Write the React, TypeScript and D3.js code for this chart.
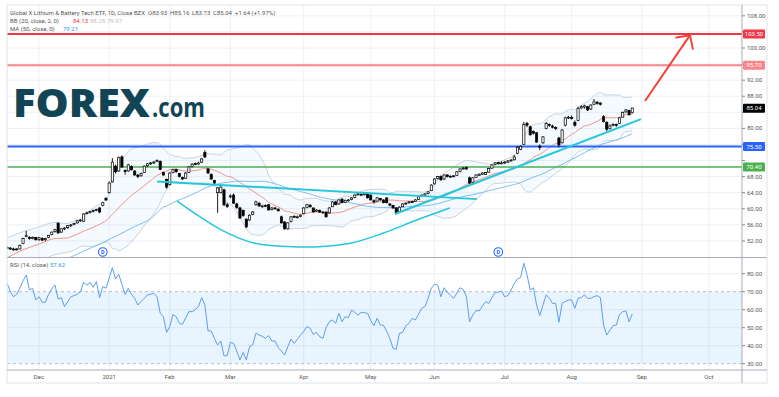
import * as d3 from 'd3';
import React, { useEffect, useRef } from 'react';

// daily candles, [open, high, low, close]
const nov20 = [
  [50.4, 50.7, 50.0, 50.2], [50.2, 50.5, 49.8, 50.0], [50.0, 50.3, 49.6, 49.8], [49.9, 50.2, 49.6, 50.0],
  [50.0, 51.1, 49.9, 50.9], [51.4, 52.8, 51.2, 52.6], [53.2, 54.5, 52.9, 53.3], [52.9, 53.2, 52.3, 52.6],
  [52.6, 53.1, 52.4, 52.9], [52.9, 53.0, 52.1, 52.3],
];
const dec20 = [
  [52.4, 53.0, 52.0, 52.8], [52.6, 52.9, 52.0, 52.2], [52.3, 52.8, 52.0, 52.6], [52.9, 53.5, 52.7, 53.4],
  [53.6, 54.3, 53.4, 54.2], [54.3, 55.0, 54.1, 54.8], [56.4, 56.7, 53.8, 54.0], [54.2, 55.1, 54.0, 55.0],
  [55.0, 55.4, 54.7, 55.2], [55.3, 55.9, 55.0, 55.8], [55.8, 56.2, 55.5, 56.0], [56.1, 56.5, 55.9, 56.3],
  [56.5, 57.2, 56.3, 57.0], [57.0, 57.4, 56.8, 57.2], [56.9, 58.9, 56.7, 58.7], [58.8, 59.3, 58.6, 59.0],
  [59.1, 59.5, 58.8, 59.3], [59.4, 59.8, 59.1, 59.6], [59.7, 60.0, 59.4, 59.8], [60.2, 60.4, 58.9, 59.2],
  [60.8, 61.7, 60.6, 61.5], [62.6, 62.9, 61.9, 62.2],
];
const jan21 = [
  [64.0, 66.8, 63.8, 66.4], [66.7, 72.6, 66.5, 71.6], [70.6, 71.0, 68.8, 69.2], [69.4, 73.0, 69.2, 72.7],
  [72.9, 73.3, 70.2, 70.4], [69.5, 69.8, 68.5, 69.3], [69.4, 71.2, 69.2, 70.9], [70.5, 70.8, 69.5, 69.7],
  [69.4, 69.6, 68.3, 68.4], [68.4, 68.6, 67.6, 68.0], [68.2, 69.0, 68.0, 68.8], [69.0, 70.8, 68.9, 70.6],
  [70.7, 71.4, 70.4, 71.2], [71.2, 71.6, 70.9, 71.4], [71.5, 71.9, 71.2, 71.6], [71.8, 72.3, 71.6, 72.0],
  [71.8, 72.0, 69.6, 69.8], [69.0, 69.2, 68.2, 68.4], [67.3, 67.5, 65.0, 65.4],
];
const feb21 = [
  [66.0, 69.1, 65.8, 68.9], [69.0, 69.9, 68.8, 69.7], [69.8, 70.0, 69.0, 69.2], [68.8, 68.9, 67.8, 68.0],
  [67.8, 68.0, 67.2, 67.4], [67.6, 69.1, 67.4, 68.9], [69.0, 70.6, 68.9, 70.4], [70.5, 71.3, 70.3, 71.1],
  [71.3, 71.5, 70.8, 71.0], [71.1, 71.7, 71.0, 71.4], [71.6, 72.6, 71.4, 72.4], [74.0, 74.6, 72.6, 72.9],
  [69.9, 70.2, 68.7, 68.9], [68.5, 68.8, 67.2, 67.4], [67.0, 67.2, 66.2, 66.4], [64.0, 65.4, 59.0, 65.2],
  [64.0, 65.6, 63.8, 65.4], [64.7, 65.0, 60.6, 61.0], [61.0, 61.5, 60.2, 60.6],
];
const mar21 = [
  [63.0, 63.6, 62.6, 63.2], [63.4, 63.8, 61.2, 61.4], [61.2, 61.5, 60.0, 60.3], [60.2, 60.5, 57.5, 57.7],
  [59.6, 59.8, 58.0, 58.3], [57.4, 57.6, 55.2, 55.5], [57.2, 58.6, 57.0, 58.4], [58.6, 59.4, 58.4, 59.2],
  [61.0, 62.0, 60.8, 61.7], [61.4, 61.6, 60.5, 60.7], [60.6, 61.0, 60.3, 60.7], [60.8, 61.1, 60.4, 60.7],
  [61.0, 61.2, 59.6, 59.7], [59.8, 60.4, 59.6, 60.2], [60.2, 60.4, 59.8, 60.0], [59.9, 60.1, 59.3, 59.5],
  [58.0, 58.3, 56.3, 56.5], [56.7, 56.9, 54.8, 55.0], [55.0, 56.7, 54.8, 56.5], [56.8, 58.2, 56.6, 58.0],
  [58.1, 58.4, 57.8, 58.0], [57.9, 58.3, 57.6, 58.0], [58.1, 58.6, 57.9, 58.4],
];
const apr21 = [
  [58.8, 60.4, 58.6, 60.2], [60.3, 61.2, 60.1, 61.0], [60.9, 61.1, 60.3, 60.5], [60.2, 60.3, 59.1, 59.2],
  [59.4, 59.9, 59.2, 59.7], [59.6, 59.8, 59.0, 59.2], [59.2, 59.4, 58.8, 59.0], [59.2, 59.3, 57.8, 58.0],
  [59.0, 60.4, 58.8, 60.2], [60.5, 61.9, 60.4, 61.7], [61.7, 61.9, 60.9, 61.0], [61.2, 62.4, 61.0, 62.2],
  [62.4, 62.6, 61.4, 61.5], [61.6, 62.3, 61.5, 62.1], [62.0, 62.4, 61.8, 62.2], [62.3, 62.9, 62.1, 62.7],
  [62.8, 63.6, 62.6, 63.4], [63.5, 63.9, 63.3, 63.7], [63.6, 63.8, 63.2, 63.4], [63.5, 64.0, 63.3, 63.8],
  [63.9, 64.1, 62.6, 62.7],
];
const may21 = [
  [63.4, 63.6, 62.1, 62.2], [62.0, 62.3, 61.3, 61.7], [61.9, 62.9, 61.8, 62.7], [62.6, 62.7, 62.0, 62.2],
  [62.2, 62.3, 61.4, 61.5], [62.7, 62.8, 61.4, 61.5], [61.2, 61.4, 60.6, 60.9], [60.8, 61.0, 60.0, 60.2],
  [60.2, 60.4, 58.6, 59.0], [59.2, 60.6, 59.0, 60.4], [60.5, 61.4, 60.4, 61.2], [61.2, 61.6, 61.0, 61.4],
  [61.5, 61.9, 61.3, 61.7], [61.8, 62.0, 61.5, 61.7], [61.8, 62.4, 61.7, 62.2], [62.3, 63.2, 62.2, 63.0],
  [63.0, 63.6, 62.9, 63.4], [63.4, 63.9, 63.2, 63.7], [63.8, 64.4, 63.6, 64.2], [64.5, 66.1, 64.4, 65.9],
];
const jun21 = [
  [66.2, 67.6, 66.0, 67.4], [67.5, 68.2, 67.3, 68.0], [68.0, 68.3, 67.0, 67.2], [67.4, 68.6, 67.2, 68.4],
  [68.4, 68.6, 67.8, 68.0], [68.1, 68.3, 67.7, 68.0], [68.0, 68.4, 67.8, 68.2], [68.3, 69.4, 68.2, 69.2],
  [69.3, 70.1, 69.1, 69.9], [70.0, 70.4, 69.8, 70.1], [70.3, 70.5, 69.7, 69.9], [67.7, 68.0, 66.1, 66.4],
  [66.6, 67.9, 66.5, 67.7], [67.8, 68.6, 67.7, 68.4], [68.3, 68.8, 68.2, 68.6], [68.6, 69.1, 68.4, 68.9],
  [68.5, 69.2, 68.4, 69.0], [69.1, 70.2, 69.0, 70.0], [70.1, 71.1, 70.0, 70.9], [71.0, 71.6, 70.8, 71.4],
  [71.5, 71.7, 71.0, 71.2], [71.3, 71.8, 71.1, 71.4],
];
const jul21 = [
  [71.5, 71.9, 71.2, 71.6], [71.6, 72.1, 71.4, 71.9], [72.0, 72.4, 71.8, 72.1], [72.2, 73.4, 72.0, 72.9],
  [73.8, 75.6, 73.6, 75.3], [74.8, 75.8, 74.6, 75.5], [76.0, 81.6, 75.9, 81.0], [81.2, 81.6, 80.3, 80.8],
  [80.4, 80.7, 78.2, 78.4], [79.2, 79.5, 78.5, 78.8], [78.9, 79.1, 76.4, 76.6], [75.6, 76.0, 74.6, 75.3],
  [76.4, 78.1, 76.2, 77.9], [80.0, 81.6, 79.8, 81.2], [81.0, 81.2, 80.4, 80.8], [80.6, 80.9, 80.0, 80.3],
  [80.2, 80.5, 79.6, 80.0], [77.6, 77.9, 75.3, 75.9], [76.4, 79.8, 76.3, 79.6], [80.8, 82.9, 80.5, 82.6],
  [82.7, 83.1, 82.3, 82.8],
];
const aug21 = [
  [82.7, 83.2, 82.2, 82.6], [81.5, 82.0, 80.4, 80.8], [82.0, 85.4, 81.8, 85.0], [85.1, 85.8, 84.8, 85.4],
  [85.3, 85.9, 84.9, 85.6], [85.4, 85.5, 84.3, 84.6], [84.8, 86.0, 84.6, 85.8], [86.0, 87.3, 85.8, 86.6],
  [86.5, 86.8, 85.9, 86.2], [86.3, 86.5, 85.7, 86.0], [82.9, 83.3, 81.5, 81.7], [81.5, 81.8, 79.3, 79.8],
  [80.0, 81.0, 79.7, 80.6], [80.8, 81.3, 80.5, 81.0], [81.0, 81.2, 80.4, 80.8], [81.2, 82.8, 81.1, 82.6],
  [82.8, 84.2, 82.7, 84.0], [84.1, 84.8, 83.9, 84.6], [84.5, 84.6, 83.2, 83.4], [83.93, 85.16, 83.73, 85.04],
];

// RSI(14) per bar, same months
const rsiNov = [74.7, 70, 67.2, 68.5, 72, 76, 79.3, 70.9, 71.9, 65.4];
const rsiDec = [67.2, 64.1, 64.1, 68.5, 71.5, 73.7, 65.9, 66.7, 61.7, 64.5, 67.2, 67.8, 68.5, 70, 75.2, 73.7, 75.2, 72.4, 75.6, 66.7, 72.8, 71.9];
const rsiJan = [77.5, 83.3, 77.1, 79.7, 74, 68.5, 71.9, 68.5, 66.3, 62.6, 64.5, 66.3, 68.2, 68.6, 69.1, 67.2, 58, 56.1, 47.4];
const rsiFeb = [50.6, 57.4, 56.1, 52.4, 51.9, 55.5, 58.9, 58.9, 60, 61.7, 66.7, 62.6, 48.2, 48.2, 44, 40.4, 42.6, 34.4, 34.4];
const rsiMar = [41.9, 41.3, 37, 32.1, 36.3, 32.1, 39.4, 40.4, 46.9, 45.9, 45.2, 44.1, 45.6, 42.6, 42.6, 39, 37, 34.8, 39.4, 43.7, 41.3, 43.5, 45.9];
const rsiApr = [48, 50.6, 49.6, 46.3, 47.4, 45, 44.1, 50, 53.3, 54.3, 52.4, 58, 53.3, 56.1, 55.6, 59.8, 58.5, 57, 58.5, 58.3, 58];
const rsiMay = [54, 51.1, 55.2, 51.5, 51.3, 48, 44, 38.6, 38, 46.9, 47.4, 51.1, 52.4, 55.2, 54.3, 57.5, 60.8, 61.7, 66.3, 71.9];
const rsiJun = [74.1, 73.7, 67.2, 72.2, 69.7, 68, 66.3, 69.2, 72.2, 71.3, 67.2, 53.3, 57, 59.5, 59.3, 62, 64.4, 63.5, 66.7, 69.7, 69.7, 70.4];
const rsiJul = [67.2, 67.8, 70.9, 74.5, 77.1, 77.8, 85.8, 79.3, 70.9, 72.2, 62.6, 56.7, 62.5, 68.2, 66.5, 63.5, 63.5, 53, 63.5, 64.5, 65.4];
const rsiAug = [65.4, 60.8, 66.3, 66.7, 68.2, 66.3, 66.3, 67.3, 67.8, 66.7, 51.5, 45.9, 48.7, 51.1, 51.5, 57.4, 58.9, 59.3, 53.3, 57.62];

// indicator values before the 20/50 bar windows fill
const bbHeadIdx = [-10, -5, 0, 5];
const bbHeadUpper = [52.7, 54.3, 55.5, 56.6];
const bbHeadBasis = [47.8, 49.8, 51.2, 52.6];
const bbHeadLower = [42.9, 45.3, 46.9, 48.6];
const maHeadIdx = [-10, -5, 0, 5, 10, 15, 20, 25, 30, 35];
const maHead = [41.5, 43, 44.6, 46.3, 48, 49.8, 51.6, 53.5, 55.6, 57.5];

const holidays = ['2020-11-26', '2020-12-25', '2021-01-01', '2021-01-18', '2021-02-15', '2021-04-02', '2021-05-31', '2021-07-05', '2021-09-06'];

const priceTicks = [52, 56, 60, 64, 68, 72, 76, 80, 84, 88, 92, 96, 100, 104, 108];
const rsiTicks = [30, 40, 50, 60, 70, 80];

const levels = [103.5, 95.7, 75.5, 70.4];
const levelColors = ['#f23645', '#f7868a', '#2962ff', '#4caf50'];
const levelWidths = [2, 2, 2, 1.5];

// drawings: [bar index, price]
const neckline = [[37, 66.8], [137.3, 62.4]];
const cupArc = [[43.3, 61.9], [57.3, 54.7], [67.7, 51.4], [78.1, 50.6], [86.5, 50.5], [97.5, 51.4], [107.8, 53.9], [118.4, 57.2], [128.8, 60.2]];
const trendUp = [[111.6, 58.7], [188.7, 82.3]];
const targetArrow = [[190, 86.8], [204.1, 103.2]];
const dividendBars = [20, 144];

const FONT = 'Roboto, "Liberation Sans", Arial, sans-serif';

const App = () => {
  const svgRef = useRef(null);

  useEffect(() => {
    const svg = d3.select(svgRef.current);
    svg.selectAll('*').remove();

    const bars = [nov20, dec20, jan21, feb21, mar21, apr21, may21, jun21, jul21, aug21].flat();
    const rsi = [rsiNov, rsiDec, rsiJan, rsiFeb, rsiMar, rsiApr, rsiMay, rsiJun, rsiJul, rsiAug].flat();
    const first = -10;

    // trading calendar from the first bar
    const dates = [];
    const d = new Date(Date.UTC(2020, 10, 16));
    while (dates.length < 232) {
      const iso = d.toISOString().slice(0, 10);
      const dow = d.getUTCDay();
      if (dow !== 0 && dow !== 6 && !holidays.includes(iso)) dates.push(new Date(d));
      d.setUTCDate(d.getUTCDate() + 1);
    }

    const left = 7.1, right = 742, top = 5, priceBottom = 257, rsiTop = 258, rsiBottom = 370;
    const x = d3.scaleLinear().domain([-10, 220.4]).range([left, right]);
    const y = d3.scaleLinear().domain([48.0, 110.7]).range([priceBottom, top]);
    const yr = d3.scaleLinear().domain([26.5, 88.7]).range([rsiBottom, rsiTop]);

    const defs = svg.append('defs');
    defs.append('clipPath').attr('id', 'pclip').append('rect')
      .attr('x', left).attr('y', top).attr('width', right - left).attr('height', priceBottom - top);
    defs.append('clipPath').attr('id', 'rclip').append('rect')
      .attr('x', left).attr('y', rsiTop).attr('width', right - left).attr('height', rsiBottom - rsiTop);

    // grid
    const grid = svg.append('g');
    const monthTicks = [];
    dates.forEach((dt, k) => {
      if (k > 0 && dt.getUTCMonth() !== dates[k - 1].getUTCMonth()) {
        const i = k + first;
        if (x(i) < right) monthTicks.push({ i, label: dt.getUTCMonth() === 0 ? String(dt.getUTCFullYear()) : d3.utcFormat('%b')(dt) });
      }
    });
    grid.selectAll('.vg').data(monthTicks).enter().append('line')
      .attr('x1', (t) => x(t.i)).attr('x2', (t) => x(t.i)).attr('y1', top).attr('y2', rsiBottom)
      .attr('stroke', '#eef0f4').attr('stroke-width', 1);
    grid.selectAll('.hg').data(priceTicks).enter().append('line')
      .attr('x1', left).attr('x2', right).attr('y1', (v) => y(v)).attr('y2', (v) => y(v))
      .attr('stroke', '#eef0f4');
    grid.selectAll('.rg').data([40, 50, 60, 80]).enter().append('line')
      .attr('x1', left).attr('x2', right).attr('y1', (v) => yr(v)).attr('y2', (v) => yr(v))
      .attr('stroke', '#eef0f4');

    // indicators
    const closes = bars.map((b) => b[3]);
    const basisPts = bbHeadIdx.map((i, j) => [i, bbHeadBasis[j]]);
    const upperPts = bbHeadIdx.map((i, j) => [i, bbHeadUpper[j]]);
    const lowerPts = bbHeadIdx.map((i, j) => [i, bbHeadLower[j]]);
    for (let k = 19; k < closes.length; k++) {
      const w = closes.slice(k - 19, k + 1);
      const m = d3.mean(w);
      const sd = Math.sqrt(d3.mean(w.map((c) => (c - m) * (c - m))));
      basisPts.push([k + first, m]);
      upperPts.push([k + first, m + 2 * sd]);
      lowerPts.push([k + first, m - 2 * sd]);
    }
    const maPts = maHeadIdx.map((i, j) => [i, maHead[j]]);
    for (let k = 49; k < closes.length; k++) {
      maPts.push([k + first, d3.mean(closes.slice(k - 49, k + 1))]);
    }

    const pg = svg.append('g').attr('clip-path', 'url(#pclip)');
    const band = upperPts.map((p, j) => [p[0], p[1], lowerPts[j][1]]);
    pg.append('path').datum(band)
      .attr('d', d3.area().x((p) => x(p[0])).y0((p) => y(p[2])).y1((p) => y(p[1])).curve(d3.curveMonotoneX))
      .attr('fill', '#2196f3').attr('fill-opacity', 0.05);
    const ln = d3.line().x((p) => x(p[0])).y((p) => y(p[1])).curve(d3.curveMonotoneX);
    [upperPts, lowerPts].forEach((pts) => {
      pg.append('path').datum(pts).attr('d', ln).attr('fill', 'none').attr('stroke', '#c7d3df').attr('stroke-width', 1);
    });
    pg.append('path').datum(basisPts).attr('d', ln).attr('fill', 'none').attr('stroke', '#f4928c').attr('stroke-width', 1);
    pg.append('path').datum(maPts).attr('d', ln).attr('fill', 'none').attr('stroke', '#7fbdf5').attr('stroke-width', 1);

    // horizontal levels
    levels.forEach((lv, j) => {
      pg.append('line').attr('x1', left).attr('x2', right).attr('y1', y(lv)).attr('y2', y(lv))
        .attr('stroke', levelColors[j]).attr('stroke-width', levelWidths[j]);
    });

    // candles
    const bw = 2.2;
    const cg = pg.append('g');
    bars.forEach((b, k) => {
      const i = k + first;
      const [o, h, l, c] = b;
      const cx = x(i);
      cg.append('line').attr('x1', cx).attr('x2', cx).attr('y1', y(h)).attr('y2', y(l))
        .attr('stroke', '#000').attr('stroke-width', 0.9);
      const yTop = y(Math.max(o, c));
      const hgt = Math.max(0.9, y(Math.min(o, c)) - yTop);
      cg.append('rect').attr('x', cx - bw / 2).attr('y', yTop).attr('width', bw).attr('height', hgt)
        .attr('fill', c >= o ? '#fff' : '#000').attr('stroke', '#000').attr('stroke-width', 0.7);
    });

    // trendline drawings
    const dl = d3.line().x((p) => x(p[0])).y((p) => y(p[1]));
    pg.append('path').datum(neckline).attr('d', dl).attr('stroke', '#26c6da').attr('stroke-width', 2).attr('fill', 'none');
    pg.append('path').datum(trendUp).attr('d', dl).attr('stroke', '#26c6da').attr('stroke-width', 2).attr('fill', 'none');
    pg.append('path').datum(cupArc).attr('d', dl.curve(d3.curveCatmullRom)).attr('stroke', '#26c6da').attr('stroke-width', 1.5).attr('fill', 'none');
    dl.curve(d3.curveLinear);
    pg.append('path').datum(targetArrow).attr('d', dl).attr('stroke', '#f44336').attr('stroke-width', 2).attr('fill', 'none');
    {
      const [a, b] = targetArrow;
      const tx = x(b[0]), ty = y(b[1]);
      const ang = Math.atan2(y(a[1]) - ty, x(a[0]) - tx);
      [-0.8, 0.8].forEach((da) => {
        pg.append('line').attr('x1', tx).attr('y1', ty)
          .attr('x2', tx + 14 * Math.cos(ang + da)).attr('y2', ty + 14 * Math.sin(ang + da))
          .attr('stroke', '#f44336').attr('stroke-width', 2).attr('stroke-linecap', 'round');
      });
    }

    // dividends
    dividendBars.forEach((i) => {
      const g = svg.append('g');
      g.append('circle').attr('cx', x(i)).attr('cy', 252).attr('r', 4.3)
        .attr('fill', '#fff').attr('stroke', '#2962ff').attr('stroke-width', 1.1);
      g.append('text').attr('x', x(i)).attr('y', 254.2).attr('text-anchor', 'middle')
        .attr('font-size', 5.5).attr('font-weight', 700).attr('fill', '#2962ff').attr('font-family', FONT).text('D');
    });

    // RSI pane
    const rg = svg.append('g').attr('clip-path', 'url(#rclip)');
    rg.append('rect').attr('x', left).attr('width', right - left).attr('y', yr(70)).attr('height', yr(30) - yr(70))
      .attr('fill', '#2196f3').attr('fill-opacity', 0.1);
    [70, 30].forEach((v) => {
      rg.append('line').attr('x1', left).attr('x2', right).attr('y1', yr(v)).attr('y2', yr(v))
        .attr('stroke', '#b8bbc4').attr('stroke-dasharray', '3,3');
    });
    rg.append('path').datum(rsi)
      .attr('d', d3.line().x((v, k) => x(k + first)).y((v) => yr(v)))
      .attr('fill', 'none').attr('stroke', '#5d9df0').attr('stroke-width', 1);

    // frame
    const fr = svg.append('g');
    fr.append('rect').attr('x', left).attr('y', top).attr('width', 767 - left).attr('height', 383 - top)
      .attr('fill', 'none').attr('stroke', '#e0e3eb');
    fr.append('line').attr('x1', left).attr('x2', 767).attr('y1', priceBottom + 0.5).attr('y2', priceBottom + 0.5).attr('stroke', '#a9acb5').attr('stroke-width', 1.2);
    fr.append('line').attr('x1', left).attr('x2', 767).attr('y1', rsiBottom).attr('y2', rsiBottom).attr('stroke', '#a9acb5').attr('stroke-width', 1.2);
    fr.append('line').attr('x1', right).attr('x2', right).attr('y1', top).attr('y2', 383).attr('stroke', '#a9acb5').attr('stroke-width', 1);

    // price badges (levels + last close)
    const badges = levels.map((v, j) => ({ v, c: levelColors[j] }));
    badges.push({ v: closes[closes.length - 1], c: '#000' });

    // axes labels; price labels hidden where a badge sits
    const ax = svg.append('g').attr('font-family', FONT).attr('font-size', 6).attr('fill', '#555');
    priceTicks.forEach((v) => {
      ax.append('line').attr('x1', right).attr('x2', right + 3).attr('y1', y(v)).attr('y2', y(v)).attr('stroke', '#888');
      const hidden = badges.some((b) => Math.abs(y(b.v) - y(v)) < 9);
      if (!hidden) ax.append('text').attr('x', right + 5).attr('y', y(v) + 2).text(v.toFixed(2));
    });
    rsiTicks.forEach((v) => {
      ax.append('line').attr('x1', right).attr('x2', right + 3).attr('y1', yr(v)).attr('y2', yr(v)).attr('stroke', '#888');
      ax.append('text').attr('x', right + 5).attr('y', yr(v) + 2).text(v.toFixed(2));
    });
    monthTicks.forEach((t) => {
      ax.append('text').attr('x', x(t.i)).attr('y', 379).attr('text-anchor', 'middle').text(t.label);
    });

    badges.forEach((b) => {
      svg.append('rect').attr('x', right + 1).attr('y', y(b.v) - 4.5).attr('width', 22).attr('height', 9)
        .attr('fill', b.c).attr('rx', 1);
      svg.append('text').attr('x', right + 12).attr('y', y(b.v) + 2.1).attr('text-anchor', 'middle')
        .attr('font-size', 6).attr('font-family', FONT).attr('fill', '#fff').text(b.v.toFixed(2));
    });

    // legend
    const lg = svg.append('g').attr('font-family', FONT).attr('font-size', 6).attr('fill', '#555');
    const row1 = lg.append('text').attr('x', 10).attr('y', 15);
    row1.append('tspan').text('Global X Lithium & Battery Tech ETF, 1D, Close BZX');
    row1.append('tspan').attr('x', 148).text('O83.93');
    row1.append('tspan').attr('x', 170).text('H85.16');
    row1.append('tspan').attr('x', 192).text('L83.73');
    row1.append('tspan').attr('x', 213).text('C85.04');
    row1.append('tspan').attr('x', 235).text('+1.64 (+1.97%)');
    const row2 = lg.append('text').attr('x', 10).attr('y', 23);
    row2.append('tspan').text('BB (20, close, 2, 0)');
    row2.append('tspan').attr('x', 73).attr('fill', '#f23645').text('84.13');
    row2.append('tspan').attr('x', 90).attr('fill', '#c8b8bc').text('88.28');
    row2.append('tspan').attr('x', 107).attr('fill', '#c8b8bc').text('79.97');
    const row3 = lg.append('text').attr('x', 10).attr('y', 31);
    row3.append('tspan').text('MA (50, close, 0)');
    row3.append('tspan').attr('x', 63).attr('fill', '#2196f3').text('79.21');
    const row4 = lg.append('text').attr('x', 10).attr('y', 267);
    row4.append('tspan').text('RSI (14, close)');
    row4.append('tspan').attr('x', 50).attr('fill', '#2196f3').text('57.62');

    // watermark logo
    const logo = svg.append('g').attr('font-family', '"Open Sans", Lato, sans-serif');
    logo.append('text').attr('x', 13).attr('y', 117).attr('font-size', 38).attr('font-weight', 800)
      .attr('fill', '#114556').attr('textLength', 137).attr('lengthAdjust', 'spacingAndGlyphs').text('FOREX');
    logo.append('text').attr('x', 152).attr('y', 117).attr('font-size', 26).attr('font-weight', 700)
      .attr('fill', '#114556').attr('textLength', 53).attr('lengthAdjust', 'spacingAndGlyphs').text('.com');
  }, []);

  return (
    <svg ref={svgRef} width={779} height={397}
      style={{ position: 'absolute', left: 0, top: 0, background: '#fff' }} />
  );
};

export default App;
